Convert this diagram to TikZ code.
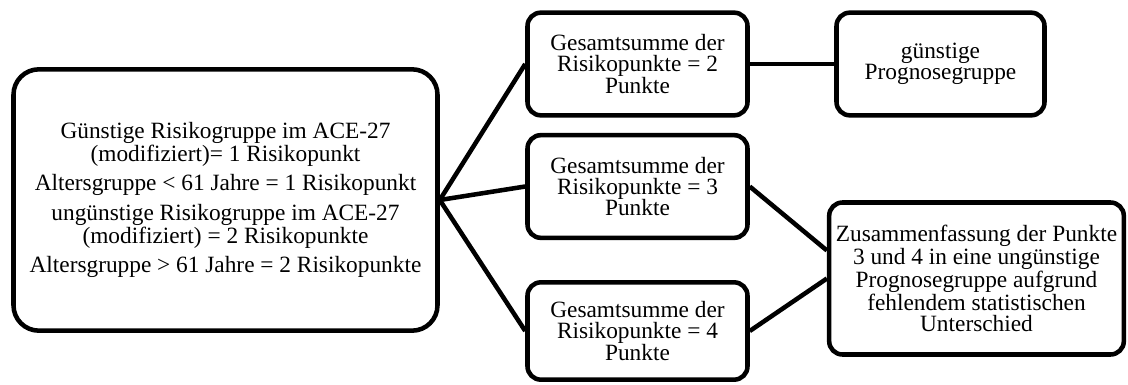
\documentclass[tikz,border=0pt]{standalone}
\usepackage{fontspec}
\setmainfont{Liberation Serif}
\tikzset{
  box/.style={draw, line width=3.4pt, rounded corners=10pt, align=center, inner sep=0pt,
    font=\fontsize{17.5}{15.9}\selectfont},
  sumbox/.style={box, minimum width=165pt, minimum height=77pt},
  link/.style={line width=3.4pt},
}
\begin{document}
\begin{tikzpicture}[x=0.75pt,y=-0.75pt]
    \useasboundingbox (0,0) rectangle (1128,385);
    %% Risk points
    \node[box, rounded corners=19pt, minimum width=318pt, minimum height=196pt] (risk) at (225.5,200)
        {G\"unstige Risikogruppe im ACE-27\\(modifiziert)= 1 Risikopunkt\\[6pt]
         Altersgruppe < 61 Jahre = 1 Risikopunkt\\[6pt]
         ung\"unstige Risikogruppe im ACE-27\\(modifiziert) = 2 Risikopunkte\\[6pt]
         Altersgruppe > 61 Jahre = 2 Risikopunkte};
    %% Sums
    \node[sumbox] (sumtwo) at (637.5,64) {Gesamtsumme der\\Risikopunkte = 2\\Punkte};
    \node[sumbox] (sumthree) at (637.5,186.5) {Gesamtsumme der\\Risikopunkte = 3\\Punkte};
    \node[sumbox, minimum height=73pt] (sumfour) at (637.5,331) {Gesamtsumme der\\Risikopunkte = 4\\Punkte};
    %% Prognosis groups
    \node[box, minimum width=156pt, minimum height=77pt] (good) at (940.5,64) {g\"unstige\\Prognosegruppe};
    \node[box, minimum width=221pt, minimum height=114pt] (merge) at (976.5,278.5)
        {Zusammenfassung der Punkte\\3 und 4 in eine ung\"unstige\\Prognosegruppe aufgrund\\fehlendem statistischen\\Unterschied};
    %% Connectors
    \draw[link] (risk.east) -- (sumtwo.west);
    \draw[link] (risk.east) -- (sumthree.west);
    \draw[link] (risk.east) -- (sumfour.west);
    \draw[link] (sumtwo.east) -- (good.west);
    \draw[link] (sumthree.east) -- ([yshift=21pt]merge.west);
    \draw[link] (sumfour.east) -- (merge.west);
\end{tikzpicture}
\end{document}
